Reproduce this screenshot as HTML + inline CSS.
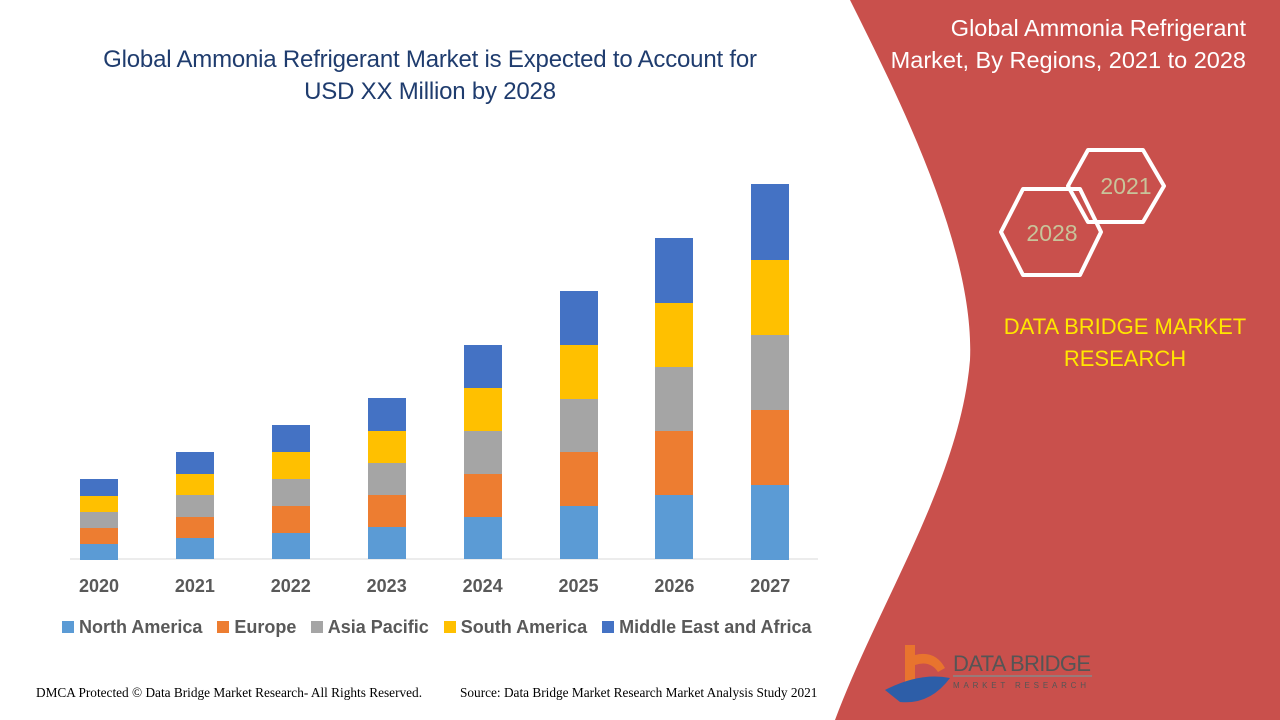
<!DOCTYPE html>
<html><head><meta charset="utf-8"><style>
body{margin:0;width:1280px;height:720px;overflow:hidden;background:#fff;font-family:"Liberation Sans",sans-serif;position:relative}
.t{position:absolute;white-space:nowrap}
</style></head><body>
<svg width="1280" height="720" style="position:absolute;left:0;top:0">
<path d="M850,0 L1280,0 L1280,720 L835,720 C880,600 960,480 970,360 C975,250 900,100 850,0 Z" fill="#c9504c"/>
<g fill="none" stroke="#fff" stroke-width="4" stroke-linejoin="round">
<polygon points="1088,150 1143,150 1164,186 1143,222 1088,222 1068,186"/>
<polygon points="1023,189 1080,189 1101,232 1080,275 1023,275 1001,232"/>
</g>
<text x="1126" y="194" font-size="23" fill="#c8c49a" text-anchor="middle" font-family="Liberation Sans">2021</text>
<text x="1052" y="241" font-size="23" fill="#c8c49a" text-anchor="middle" font-family="Liberation Sans">2028</text>
<line x1="70" y1="559" x2="818" y2="559" stroke="#d9d9d9"/>
<path d="M905,645 L905,685 L915,685 L915,665 Q930,660 938,672 L945,668 Q935,650 915,655 L915,645Z" fill="#e8742e"/>
<path d="M885,690 Q920,672 950,678 Q930,705 900,702 Z" fill="#2d5ea8"/>
<text x="953" y="671" font-size="22" fill="#555" font-family="Liberation Sans" textLength="138">DATA BRIDGE</text>
<line x1="953" y1="676" x2="1092" y2="676" stroke="#888" stroke-width="1.5"/>
<text x="953" y="688" font-size="8" fill="#555" letter-spacing="5" textLength="138">MARKET RESEARCH</text>
</svg>
<div id="b"></div>
<div class="t" style="left:0;width:860px;text-align:center;top:44px;font-size:24px;line-height:32px;color:#1f3c6e;letter-spacing:-0.2px">Global Ammonia Refrigerant Market is Expected to Account for<br>USD XX Million by 2028</div>
<div class="t" style="right:34px;top:12px;font-size:23.5px;line-height:32px;color:#fff;text-align:right">Global Ammonia Refrigerant<br>Market, By Regions, 2021 to 2028</div>
<div class="t" style="left:990px;width:270px;text-align:center;top:311px;font-size:22px;line-height:32px;color:#ffe600">DATA BRIDGE MARKET<br>RESEARCH</div>
<div class="t" style="left:36px;top:685px;font-size:13.3px;font-family:'Liberation Serif',serif">DMCA Protected © Data Bridge Market Research- All Rights Reserved.</div>
<div class="t" style="left:460px;top:685px;font-size:13.3px;font-family:'Liberation Serif',serif">Source: Data Bridge Market Research Market Analysis Study 2021</div>
<div class="t" style="left:62px;top:617px;font-size:18px;font-weight:bold;color:#595959">
<span style="display:inline-block;width:12px;height:12px;background:#5b9bd5"></span> North America&nbsp;&nbsp;
<span style="display:inline-block;width:12px;height:12px;background:#ed7d31"></span> Europe&nbsp;&nbsp;
<span style="display:inline-block;width:12px;height:12px;background:#a5a5a5"></span> Asia Pacific&nbsp;&nbsp;
<span style="display:inline-block;width:12px;height:12px;background:#ffc000"></span> South America&nbsp;&nbsp;
<span style="display:inline-block;width:12px;height:12px;background:#4472c4"></span> Middle East and Africa</div>
<script>
var tops=[479,452,425,398,345,291,238,184],yrs=[2020,2021,2022,2023,2024,2025,2026,2027],cols=['#5b9bd5','#ed7d31','#a5a5a5','#ffc000','#4472c4'],h='';
for(var i=0;i<8;i++){var cx=99+i*95.9,seg=(559-tops[i])/5;
for(var k=0;k<5;k++){var y=559-seg*(k+1);h+='<div style="position:absolute;left:'+(cx-19)+'px;top:'+y+'px;width:38px;height:'+(seg+0.5)+'px;background:'+cols[k]+'"></div>';}
h+='<div class="t" style="left:'+(cx-30)+'px;width:60px;text-align:center;top:576px;font-size:18px;font-weight:bold;color:#595959">'+yrs[i]+'</div>';}
document.getElementById('b').innerHTML=h;
</script>
</body></html>
